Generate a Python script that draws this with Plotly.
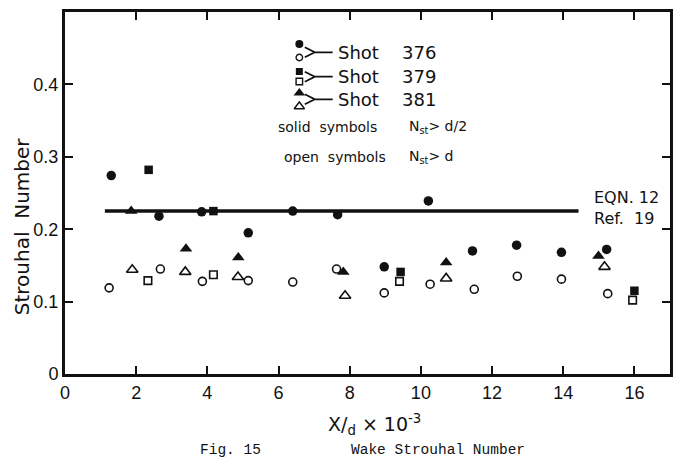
import plotly.graph_objects as go

# Wake Strouhal number vs. downstream distance (X/d x 10^-3)
shot376_solid_x = [1.30, 2.64, 3.84, 5.15, 6.40, 7.66, 8.97, 10.21, 11.45, 12.69, 13.95, 15.22]
shot376_solid_y = [0.274, 0.218, 0.224, 0.195, 0.225, 0.220, 0.148, 0.239, 0.170, 0.178, 0.168, 0.172]
shot376_open_x = [1.24, 2.68, 3.86, 5.15, 6.40, 7.63, 8.97, 10.26, 11.50, 12.71, 13.95, 15.25]
shot376_open_y = [0.119, 0.145, 0.128, 0.129, 0.127, 0.145, 0.112, 0.124, 0.117, 0.135, 0.131, 0.111]

shot379_solid_x = [2.35, 4.17, 9.43, 16.00]
shot379_solid_y = [0.282, 0.225, 0.141, 0.115]
shot379_open_x = [2.33, 4.17, 9.40, 15.95]
shot379_open_y = [0.129, 0.137, 0.128, 0.102]

shot381_solid_x = [1.86, 3.40, 4.87, 7.82, 10.71, 14.99]
shot381_solid_y = [0.225, 0.173, 0.161, 0.141, 0.154, 0.163]
shot381_open_x = [1.89, 3.38, 4.86, 7.87, 10.71, 15.16]
shot381_open_y = [0.144, 0.141, 0.134, 0.108, 0.132, 0.148]

# EQN. 12 (Ref. 19) level
eqn_x = [1.12, 14.43]
eqn_value = 0.225

x_ticks = [0, 2, 4, 6, 8, 10, 12, 14, 16]
y_ticks = [0, 0.1, 0.2, 0.3, 0.4]
y_tick_text = ["0", "0.1", "0.2", "0.3", "0.4"]

# ---- layout geometry (pixels) ----
W, H = 677, 459
L, R, T, B = 65, 673, 12, 374
X_MAX, Y_MAX = 17.0, 0.5


def dx(px):
    return (px - L) / (R - L) * X_MAX


def dy(py):
    return (B - py) / (B - T) * Y_MAX


def px_paper(px):
    return (px - L) / (R - L)


def py_paper(py):
    return (B - py) / (B - T)


SANS = "DejaVu Sans"
BLACK = "#111111"

fig = go.Figure()

fig.add_trace(go.Scatter(
    x=eqn_x, y=[eqn_value, eqn_value], mode="lines",
    line=dict(color=BLACK, width=3.5), showlegend=False, hoverinfo="skip"))


def add_series(xs, ys, symbol, size, filled):
    marker = dict(symbol=symbol if filled else symbol + "-open", size=size, color=BLACK,
                  line=dict(width=1.6 if not filled else 0, color=BLACK))
    fig.add_trace(go.Scatter(x=xs, y=ys, mode="markers", marker=marker, showlegend=False))


add_series(shot376_solid_x, shot376_solid_y, "circle", 9.5, True)
add_series(shot376_open_x, shot376_open_y, "circle", 8, False)
add_series(shot379_solid_x, shot379_solid_y, "square", 8.5, True)
add_series(shot379_open_x, shot379_open_y, "square", 7.5, False)
add_series(shot381_solid_x, shot381_solid_y, "triangle-up", 11, True)
add_series(shot381_open_x, shot381_open_y, "triangle-up", 10, False)

# ---- symbol key ----
key_px = 300.5
key_rows = [
    ("circle", 8, 6.5, 44, 57.5, 52.3, "376"),
    ("square", 7, 6.5, 71.5, 81.5, 76.7, "379"),
    ("triangle-up", 10, 9, 93, 106.5, 99.3, "381"),
]
shapes = []
annotations = []
for sym, s_fill, s_open, y_up, y_lo, y_mid, shot in key_rows:
    fig.add_trace(go.Scatter(
        x=[dx(key_px)], y=[dy(y_up)], mode="markers",
        marker=dict(symbol=sym, size=s_fill, color=BLACK), showlegend=False))
    fig.add_trace(go.Scatter(
        x=[dx(key_px)], y=[dy(y_lo)], mode="markers",
        marker=dict(symbol=sym + "-open", size=s_open, color=BLACK, line=dict(width=1.4)),
        showlegend=False))
    a = (px_paper(306), py_paper(y_mid - 5))
    b = (px_paper(306), py_paper(y_mid + 5))
    c = (px_paper(316), py_paper(y_mid))
    d = (px_paper(334), py_paper(y_mid))
    shapes.append(dict(
        type="path", xref="paper", yref="paper",
        path=f"M {a[0]},{a[1]} L {c[0]},{c[1]} L {b[0]},{b[1]} M {c[0]},{c[1]} L {d[0]},{d[1]}",
        line=dict(color=BLACK, width=1.8)))
    annotations.append(dict(x=px_paper(337), y=py_paper(y_mid), xref="paper", yref="paper",
                            text="Shot", showarrow=False, xanchor="left", yanchor="middle",
                            font=dict(family=SANS, size=18, color=BLACK)))
    annotations.append(dict(x=px_paper(402), y=py_paper(y_mid), xref="paper", yref="paper",
                            text=shot, showarrow=False, xanchor="left", yanchor="middle",
                            font=dict(family=SANS, size=18, color=BLACK)))

small = dict(family=SANS, size=14, color=BLACK)
annotations += [
    dict(x=px_paper(277), y=py_paper(127), text="solid  symbols", font=small),
    dict(x=px_paper(409), y=py_paper(127), text="N<sub>st</sub>> d/2", font=small),
    dict(x=px_paper(283), y=py_paper(157), text="open  symbols", font=small),
    dict(x=px_paper(409), y=py_paper(157), text="N<sub>st</sub>> d", font=small),
    dict(x=px_paper(595), y=py_paper(197), text="EQN. 12", font=dict(family=SANS, size=16, color=BLACK)),
    dict(x=px_paper(595), y=py_paper(219), text="Ref.  19", font=dict(family=SANS, size=16, color=BLACK)),
]
for a in annotations[-6:]:
    a.update(xref="paper", yref="paper", showarrow=False, xanchor="left", yanchor="middle")

# axis titles and caption
annotations += [
    dict(x=px_paper(22), y=py_paper(226), xref="paper", yref="paper", showarrow=False,
         text="Strouhal  Number", textangle=-90, xanchor="center", yanchor="middle",
         font=dict(family=SANS, size=20, color=BLACK)),
    dict(x=px_paper(376), y=py_paper(424), xref="paper", yref="paper", showarrow=False,
         text="X/<sub>d</sub> × 10<sup>-3</sup>", xanchor="center", yanchor="middle",
         font=dict(family=SANS, size=19, color=BLACK)),
    dict(x=px_paper(231), y=py_paper(450), xref="paper", yref="paper", showarrow=False,
         text="Fig. 15", xanchor="center", yanchor="middle",
         font=dict(family="Liberation Mono", size=14.5, color=BLACK)),
    dict(x=px_paper(440), y=py_paper(450), xref="paper", yref="paper", showarrow=False,
         text="Wake Strouhal Number", xanchor="center", yanchor="middle",
         font=dict(family="Liberation Mono", size=14.5, color=BLACK)),
]

axis_common = dict(showline=True, linewidth=3, linecolor=BLACK, mirror="ticks",
                   ticks="inside", ticklen=8, tickwidth=2, tickcolor=BLACK,
                   showgrid=False, zeroline=False,
                   tickfont=dict(family="Liberation Sans", size=18, color=BLACK))

fig.update_layout(
    width=W, height=H, autosize=False,
    margin=dict(l=L, r=W - R, t=T, b=H - B),
    paper_bgcolor="white", plot_bgcolor="white",
    xaxis=dict(range=[0, X_MAX], tickvals=x_ticks, **axis_common),
    yaxis=dict(range=[0, Y_MAX], tickvals=y_ticks, ticktext=y_tick_text, **axis_common),
    shapes=shapes, annotations=annotations, showlegend=False,
)

fig.write_html("out.html", config={"displayModeBar": False})
